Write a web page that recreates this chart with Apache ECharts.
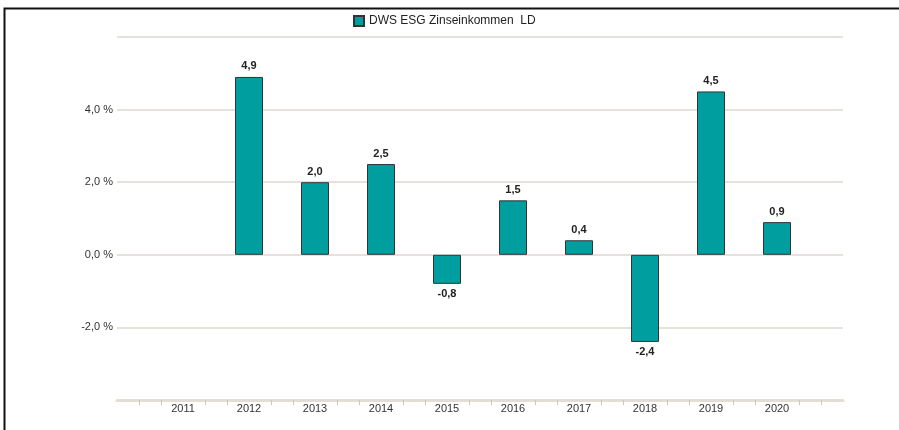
<!DOCTYPE html>
<html>
<head>
<meta charset="utf-8">
<script src="https://cdn.jsdelivr.net/npm/echarts@6/dist/echarts.min.js"></script>
<style>
html,body{margin:0;padding:0;background:#fff;}
#chart{width:899px;height:430px;}
</style>
</head>
<body>
<div id="chart"></div>
<script>
const seriesName = 'DWS ESG Zinseinkommen  LD';
const years = [2011, 2012, 2013, 2014, 2015, 2016, 2017, 2018, 2019, 2020];
const values = [null, 4.9, 2.0, 2.5, -0.8, 1.5, 0.4, -2.4, 4.5, 0.9];
const yTickLabels = ['-2,0 %', '0,0 %', '2,0 %', '4,0 %'];

const fmt = v => v.toFixed(1).replace('.', ',');
const data = years.map((y, i) => ({
  value: [y, values[i]],
  label: { position: values[i] !== null && values[i] < 0 ? 'bottom' : 'top' }
}));

const chart = echarts.init(document.getElementById('chart'), null, {renderer: 'canvas'});
chart.setOption({
  animation: false,
  textStyle: { fontFamily: 'Liberation Sans, Arial, sans-serif' },
  legend: {
    left: 348, top: 10,
    icon: 'rect', itemWidth: 10, itemHeight: 10, itemGap: 5,
    textStyle: { fontSize: 12, color: '#222', fontFamily: 'Liberation Sans, Arial, sans-serif' },
    data: [seriesName]
  },
  grid: { left: 117, right: 56, top: 37, bottom: 30 },
  xAxis: {
    type: 'value', min: 2010, max: 2021, interval: 1,
    axisLine: { show: true, onZero: false, lineStyle: { color: '#e2ded6', width: 3 } },
    axisTick: { show: false },
    minorTick: { show: true, splitNumber: 3, length: 5, lineStyle: { color: '#cbc7bf', width: 1 } },
    splitLine: { show: false },
    minorSplitLine: { show: false },
    axisLabel: {
      fontSize: 11, color: '#333', margin: 3,
      formatter: v => years.includes(v) ? String(v) : ''
    }
  },
  yAxis: {
    type: 'value', min: -4, max: 6, interval: 2,
    axisLine: { show: false },
    axisTick: { show: false },
    splitLine: { lineStyle: { color: '#dcd8d0', width: 1.5 } },
    axisLabel: {
      fontSize: 11, color: '#333', margin: 4,
      formatter: v => {
        const s = fmt(v) + ' %';
        return yTickLabels.includes(s) ? s : '';
      }
    }
  },
  series: [{
    name: seriesName,
    type: 'bar',
    barWidth: 28,
    data: data,
    itemStyle: { color: '#009e9e', borderColor: '#333', borderWidth: 1 },
    label: {
      show: true, distance: 5,
      fontSize: 11, fontWeight: 'bold', color: '#222',
      formatter: p => fmt(p.value[1])
    }
  }],
  graphic: [
    { type: 'rect', shape: { x: 4.5, y: 8.5, width: 900, height: 440 },
      style: { fill: null, stroke: '#111', lineWidth: 2 }, silent: true }
  ]
});
</script>
</body>
</html>
